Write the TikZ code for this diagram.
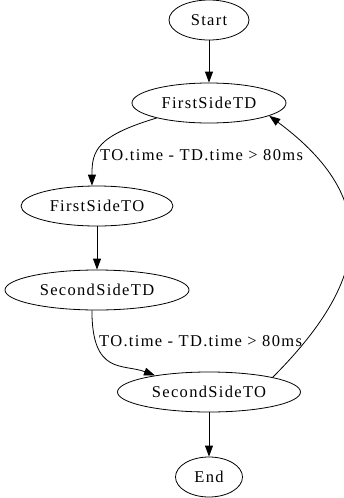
\documentclass[tikz,border=0pt]{standalone}
\usepackage{fontspec}
\setmainfont{Liberation Serif}[LetterSpace=8]
\usepackage{tikz}
\usetikzlibrary{shapes.geometric}
\usetikzlibrary{arrows.meta}
\tikzset {
  % states of the flow
  state/.style = {draw, ellipse, inner sep=0pt, line width=0.8pt, minimum height=40pt,
    font=\fontsize{16.5}{20}\selectfont},
  % transitions between the states
  trans/.style = {-{Triangle[length=11pt,width=8pt]}, line width=0.8pt},
  % guard written next to a transition
  cond/.style = {anchor=west, inner sep=0pt, font=\fontsize{16.5}{20}\selectfont},
}
\begin{document}
\begin{tikzpicture}[x=1pt, y=-1pt]
  \useasboundingbox (0,0) rectangle (344,498);

        \node[state, minimum width=80pt] (Start) at (209,20) {Start};
        \node[state, minimum width=154pt] (FirstSideTD) at (209,103) {FirstSideTD};
        \node[state, minimum width=152pt] (FirstSideTO) at (97,206) {FirstSideTO};
        \node[state, minimum width=184pt] (SecondSideTD) at (97,290) {SecondSideTD};
        \node[state, minimum width=183pt] (SecondSideTO) at (209,392) {SecondSideTO};
        \node[state, minimum width=67pt] (End) at (209,477) {End};

        \node[cond] (cond1) at (100,155) {TO.time - TD.time > 80ms};
        \node[cond] (cond2) at (99,341) {TO.time - TD.time > 80ms};

        \draw [trans] (Start) -- (FirstSideTD);
        \draw [trans] (FirstSideTD.196) .. controls +(-60,18) and +(0,-35) .. (FirstSideTO.104);
        \draw [trans] (FirstSideTO) -- (SecondSideTD);
        \draw [trans] (SecondSideTD.256) .. controls +(0,65) and +(-32,-12) .. (SecondSideTO.163);
        \draw [trans] (SecondSideTO.13) .. controls +(95,-95) and +(115,85) .. (FirstSideTD.348);
        \draw [trans] (SecondSideTO) -- (End);

\end{tikzpicture}
\end{document}
